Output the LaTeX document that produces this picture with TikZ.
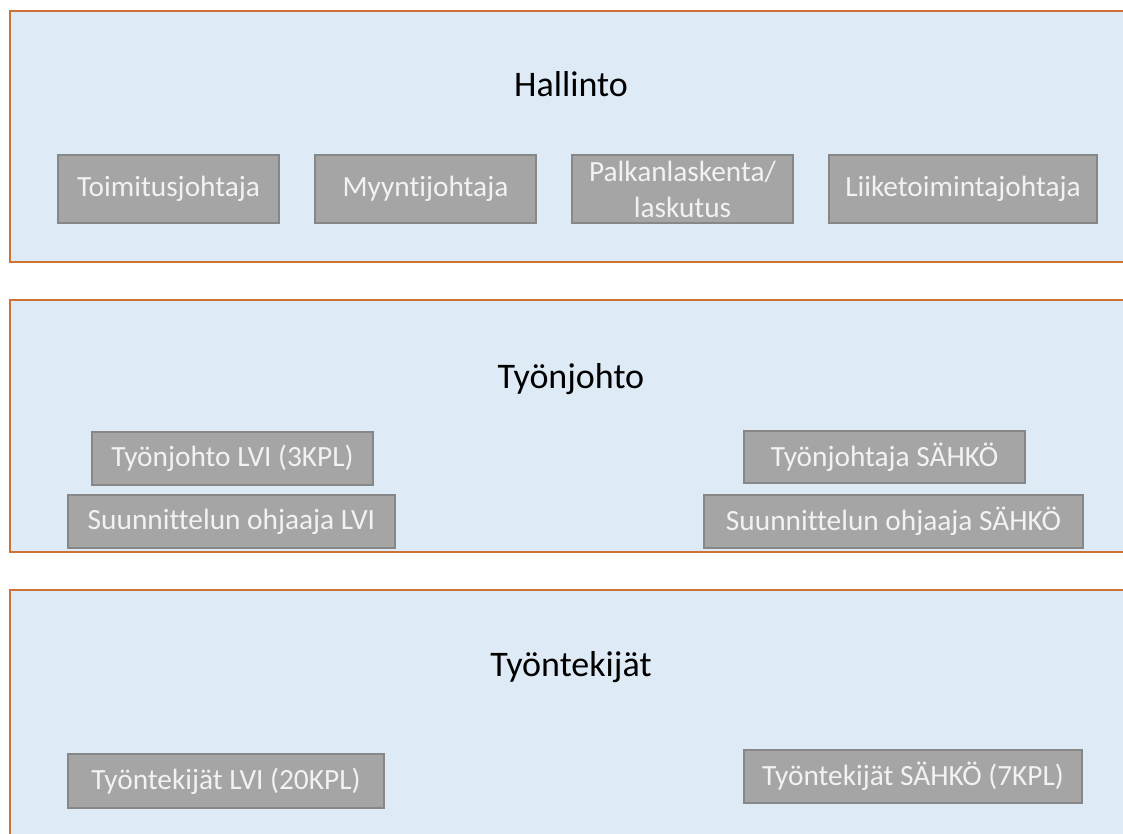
\documentclass[tikz,border=0pt]{standalone}
\usepackage{fontspec}
\setmainfont{Carlito}[Ligatures=NoCommon]
\usepackage{tikz}
\definecolor{kaistapohja}{RGB}{222,234,246}
\definecolor{kaistareuna}{RGB}{205,115,55}
\definecolor{laatikko}{RGB}{165,165,165}
\definecolor{laatikkoreuna}{RGB}{135,135,135}
\definecolor{laatikkoteksti}{RGB}{242,242,242}
\tikzset{
  kaista/.style={fill=kaistapohja, draw=kaistareuna, line width=1.1pt},
  otsikko/.style={anchor=base, text=black, font=\fontsize{27}{31}\selectfont},
  tehtava/.style={rectangle, fill=laatikko, draw=laatikkoreuna, line width=0.8pt,
    text=laatikkoteksti, inner sep=0pt, align=center,
    font=\fontsize{22}{27}\selectfont}
}

\begin{document}
\begin{tikzpicture}[x=0.75pt, y=-0.75pt]
  \useasboundingbox (0,0) rectangle (1123,834);
  \clip (0,0) rectangle (1123,834);
  % kaistat
  \draw[kaista] (10,11) rectangle (1140,262);
  \draw[kaista] (10,300) rectangle (1140,552);
  \draw[kaista] (10,590) rectangle (1140,860);
  % Hallinto
  \node[otsikko] (hallinto) at (571,97) {Hallinto};
  \node[tehtava, minimum width=165.75pt, minimum height=51pt] (toimitus) at (168.5,189) {Toimitusjohtaja};
  \node[tehtava, minimum width=165.75pt, minimum height=51pt] (myynti) at (425.5,189) {Myyntijohtaja};
  \node[tehtava, minimum width=165.75pt, minimum height=51pt] (palkka) at (682.5,189) {Palkanlaskenta/\\laskutus};
  \node[tehtava, minimum width=201pt, minimum height=51pt] (liike) at (963,189) {Liiketoimintajohtaja};
  % Ty\"onjohto
  \node[otsikko] (tyonjohto) at (571,388) {Työnjohto};
  \node[tehtava, minimum width=210.75pt, minimum height=39.75pt] (tjlvi) at (232.5,458.5) {Työnjohto LVI (3KPL)};
  \node[tehtava, minimum width=245.25pt, minimum height=39.75pt] (sulvi) at (231.5,521.5) {Suunnittelun ohjaaja LVI};
  \node[tehtava, minimum width=210.75pt, minimum height=39pt] (tjsahko) at (884.5,457) {Työnjohtaja SÄHKÖ};
  \node[tehtava, minimum width=284.25pt, minimum height=39.75pt] (susahko) at (893.5,521.5) {Suunnittelun ohjaaja SÄHKÖ};
  % Ty\"ontekij\"at
  \node[otsikko] (tyontekijat) at (571,676) {Työntekijät};
  \node[tehtava, minimum width=237pt, minimum height=40.5pt] (telvi) at (226,781) {Työntekijät LVI (20KPL)};
  \node[tehtava, minimum width=253.5pt, minimum height=39.75pt] (tesahko) at (913,776.5) {Työntekijät SÄHKÖ (7KPL)};
\end{tikzpicture}
\end{document}
